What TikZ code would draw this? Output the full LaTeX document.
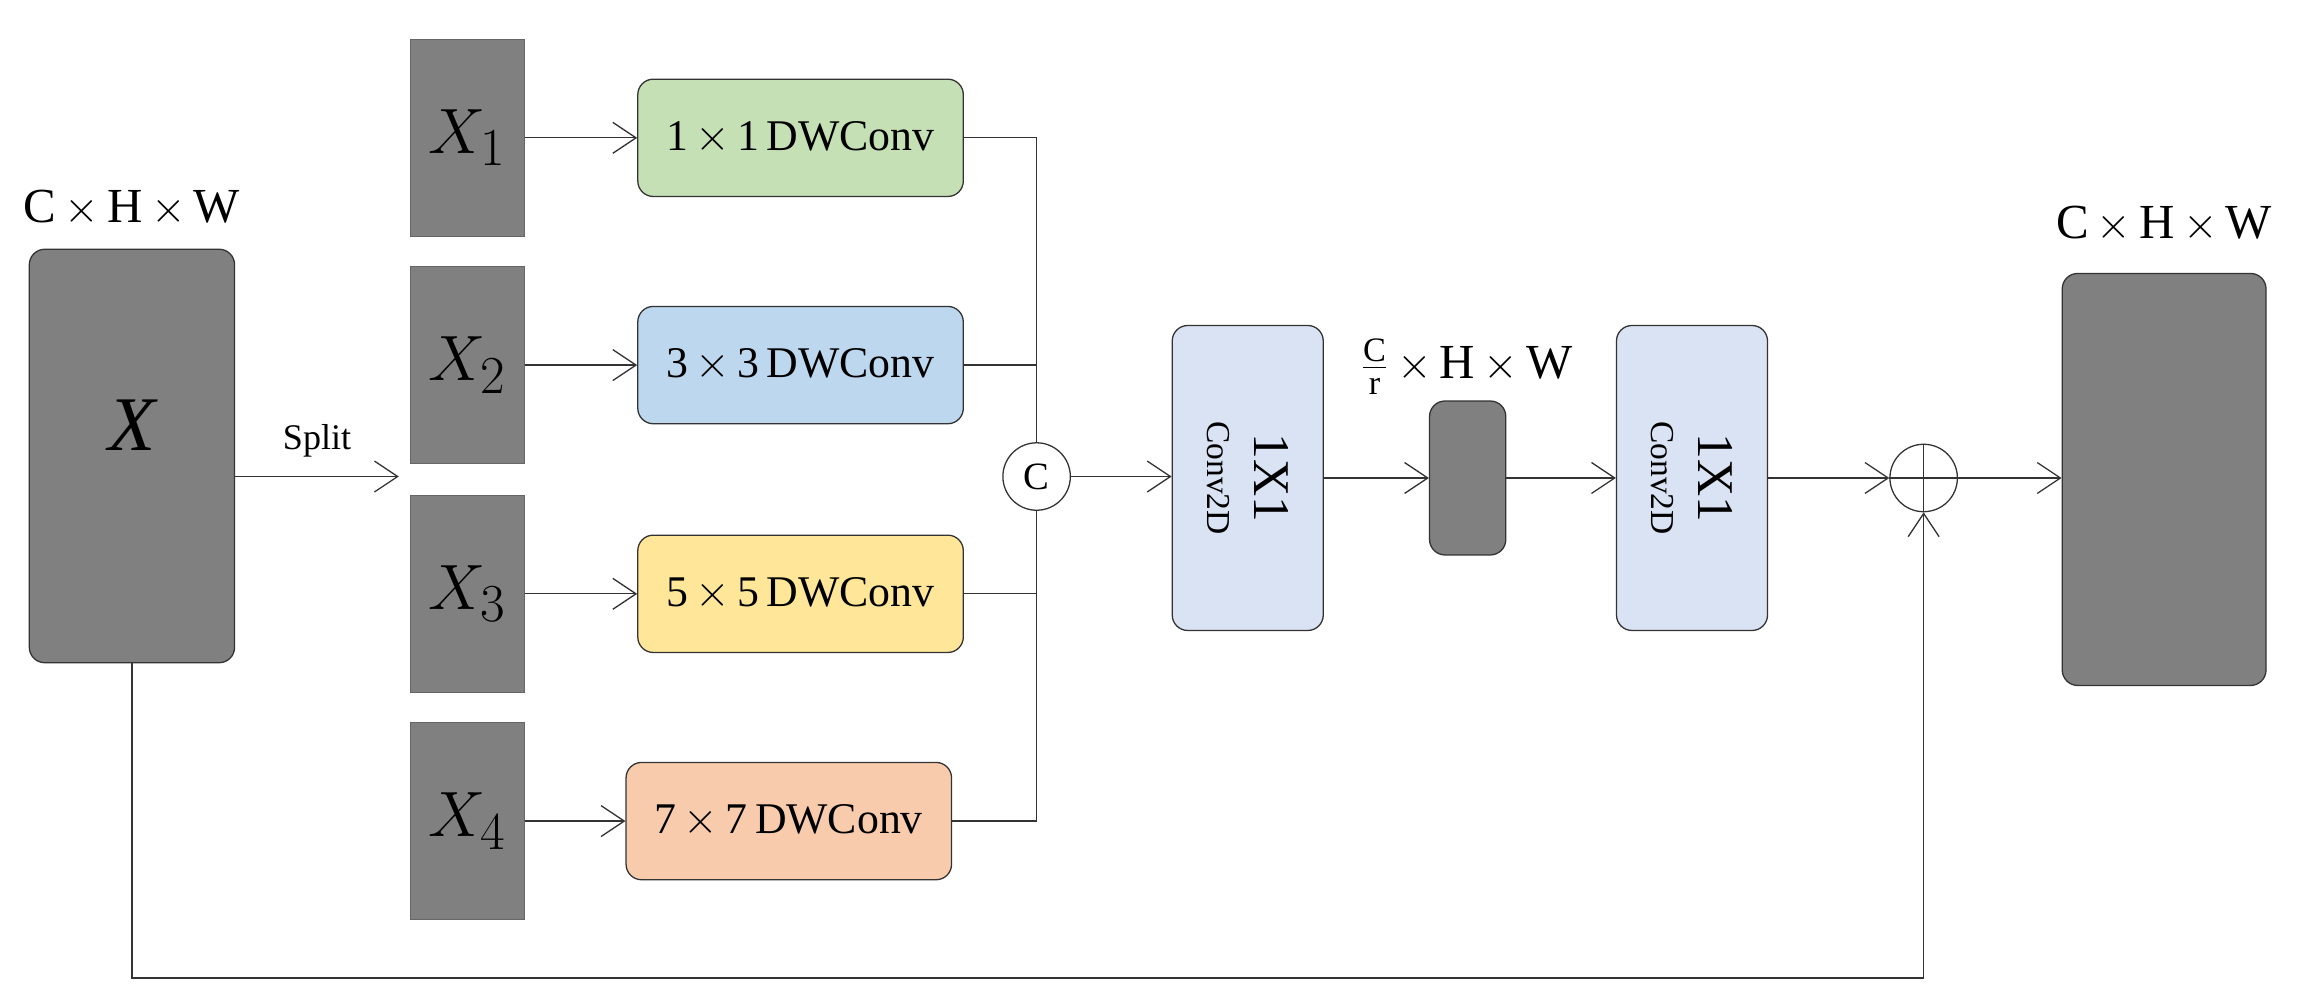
\documentclass[tikz,border=0pt]{standalone}
\usepackage{fontspec}
\setmainfont{Liberation Serif}
\usetikzlibrary{arrows.meta}
\definecolor{dk}{HTML}{808080}
\definecolor{cg}{HTML}{C5E0B4}
\definecolor{cb}{HTML}{BDD7EE}
\definecolor{cy}{HTML}{FFE699}
\definecolor{cp}{HTML}{F8CBAD}
\definecolor{cl}{HTML}{DAE3F3}
\begin{document}
\begin{tikzpicture}[x=0.02cm,y=-0.02cm,
  box/.style={draw=black!80,line width=0.5pt,rounded corners=6pt,inner sep=0pt},
  feat/.style={box,fill=dk},
  xs/.style={fill=dk,draw=black!60,line width=0.4pt},
  arr/.style={-{Straight Barb[length=9pt,width=12pt,line width=0.5pt]},line width=0.5pt,draw=black!80},
  ln/.style={line width=0.5pt,draw=black!80},
  fs/.style={font=\fontsize{17}{20}\selectfont}]
\useasboundingbox (0,0) rectangle (1568,686);
% main input
\node[feat,minimum width=140*0.02cm,minimum height=282*0.02cm] (X) at (90,311) {};
\node[font=\fontsize{30}{34}\selectfont\itshape] at (90,290) {X};
\node[font=\fontsize{19}{22}\selectfont] at (90,142) {C\,$\times$\,H\,$\times$\,W};
\coordinate (sp) at (272,325);
\draw[arr] (X.east|-sp) -- (sp) node[midway,above=4pt,font=\fontsize{14}{16}\selectfont]{Split};
% splits
\foreach \i/\y in {1/94,2/249,3/405,4/560}{
  \node[xs,minimum width=78*0.02cm,minimum height=134*0.02cm,inner sep=0pt] (X\i) at (319,\y) {};
  \node[font=\fontsize{28}{32}\selectfont] at (319,\y) {$X_{\i}$};
}
\node[box,fill=cg,minimum width=222*0.02cm,minimum height=80*0.02cm,fs] (c1) at (546,94) {1\,$\times$\,1\,DWConv};
\node[box,fill=cb,minimum width=222*0.02cm,minimum height=80*0.02cm,fs] (c2) at (546,249) {3\,$\times$\,3\,DWConv};
\node[box,fill=cy,minimum width=222*0.02cm,minimum height=80*0.02cm,fs] (c3) at (546,405) {5\,$\times$\,5\,DWConv};
\node[box,fill=cp,minimum width=222*0.02cm,minimum height=80*0.02cm,fs] (c4) at (538,560) {7\,$\times$\,7\,DWConv};
\foreach \i in {1,2,3,4}{\draw[arr] (X\i.east) -- (c\i.west);}
% concat
\node[circle,draw=black!80,line width=0.5pt,minimum size=46*0.02cm,inner sep=0pt,font=\fontsize{15}{17}\selectfont] (cat) at (707,325) {C};
\draw[ln] (c1.east) -- (707,94) -- (cat.north);
\draw[ln] (c2.east) -- (707,249);
\draw[ln] (c3.east) -- (707,405);
\draw[ln] (c4.east) -- (707,560) -- (cat.south);
% conv2d 1
\node[box,fill=cl,minimum width=103*0.02cm,minimum height=208*0.02cm] (p1) at (851,326) {};
\node[rotate=-90,align=center,font=\fontsize{20}{22}\selectfont] at (851,326) {1X1\\[-4pt]{\fontsize{13}{14}\selectfont Conv2D}};
\draw[arr] (cat.east) -- (p1.west|-cat);
\node[feat,minimum width=52*0.02cm,minimum height=105*0.02cm] (m) at (1001,326) {};
\draw[arr] (p1.east|-m) -- (m.west);
\node[font=\fontsize{19}{22}\selectfont] at (1000,250) {$\frac{\mathrm{C}}{\mathrm{r}}$\,$\times$\,H\,$\times$\,W};
\node[box,fill=cl,minimum width=103*0.02cm,minimum height=208*0.02cm] (p2) at (1154,326) {};
\node[rotate=-90,align=center,font=\fontsize{20}{22}\selectfont] at (1154,326) {1X1\\[-4pt]{\fontsize{13}{14}\selectfont Conv2D}};
\draw[arr] (m.east) -- (p2.west|-m);
% add
\node[circle,draw=black!80,line width=0.5pt,minimum size=46*0.02cm,inner sep=0pt] (add) at (1312,326) {};
\draw[ln] (add.north) -- (add.south) (add.west) -- (add.east);
\draw[arr] (p2.east|-add) -- (add.west);
\node[feat,minimum width=139*0.02cm,minimum height=281*0.02cm] (Y) at (1476,327) {};
\draw[arr] (add.east) -- (Y.west|-add);
\node[font=\fontsize{19}{22}\selectfont] at (1476,153) {C\,$\times$\,H\,$\times$\,W};
% skip
\coordinate (b1) at (90,667);
\coordinate (b2) at (1312,667);
\draw[arr] (X.south) -- (b1) -- (b2) -- (add.south);
\end{tikzpicture}
\end{document}
